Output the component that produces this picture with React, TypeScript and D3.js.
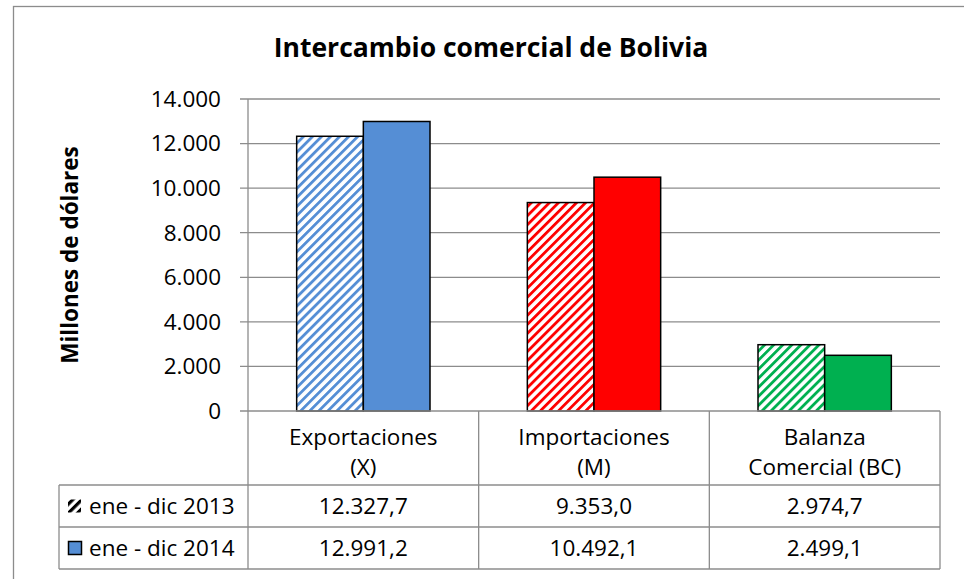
import * as d3 from "d3";
import { useEffect, useRef } from "react";

const categories = ["Exportaciones (X)", "Importaciones (M)", "Balanza Comercial (BC)"];
const categoryLines = [["Exportaciones", "(X)"], ["Importaciones", "(M)"], ["Balanza", "Comercial (BC)"]];
const seriesNames = ["ene - dic 2013", "ene - dic 2014"];
const values2013 = [12327.7, 9353.0, 2974.7];
const values2014 = [12991.2, 10492.1, 2499.1];
const barColors = ["#558ED5", "#FF0000", "#00B050"];
const yTicks = [0, 2000, 4000, 6000, 8000, 10000, 12000, 14000];

const W = 964;
const H = 579;
const FONT = "'Open Sans', sans-serif";
const FS = 22.5;

const fmtTick = (v: number) => d3.format(",")(v).replace(/,/g, ".");
const fmtVal = (v: number) => {
  const s = d3.format(",.1f")(v);
  return s.replace(/,/g, "#").replace(".", ",").replace(/#/g, ".");
};

export default function App() {
  const svgRef = useRef<SVGSVGElement>(null);

  useEffect(() => {
    const margin = { top: 99, left: 248, right: 24, bottom: 168 };
    const plotBottom = H - margin.bottom; // 411
    const plotRight = W - margin.right; // 940
    const tableLeft = 59;
    const rowLines = [485, 527, 569];

    const svg = d3.select(svgRef.current);
    svg.selectAll("*").remove();

    const x0 = d3.scaleBand<string>().domain(categories).range([margin.left, plotRight]).padding(0);
    const x1 = d3.scaleBand<string>().domain(seriesNames).range([0, x0.bandwidth()]).paddingInner(0).paddingOuter(0.73);
    const y = d3.scaleLinear().domain([0, 14000]).range([plotBottom, margin.top]);

    // hatch patterns
    const defs = svg.append("defs");
    barColors.forEach((c, i) => {
      const p = defs.append("pattern")
        .attr("id", `hatch${i}`)
        .attr("patternUnits", "userSpaceOnUse")
        .attr("width", 6.4)
        .attr("height", 6.4)
        .attr("patternTransform", "rotate(45)");
      p.append("rect").attr("width", 6.4).attr("height", 6.4).attr("fill", "#fff");
      p.append("rect").attr("x", 0).attr("width", 2.8).attr("height", 6.4).attr("fill", c);
    });
    const lp = defs.append("pattern")
      .attr("id", "hatchLegend")
      .attr("patternUnits", "userSpaceOnUse")
      .attr("width", 6.4)
      .attr("height", 6.4)
      .attr("patternTransform", "rotate(45)");
    lp.append("rect").attr("width", 6.4).attr("height", 6.4).attr("fill", "#fff");
    lp.append("rect").attr("width", 3.2).attr("height", 6.4).attr("fill", "#000");

    svg.append("rect").attr("width", W).attr("height", H).attr("fill", "#fff");
    // outer chart border
    svg.append("rect")
      .attr("x", 13.5).attr("y", 6.5)
      .attr("width", W + 20).attr("height", H + 20)
      .attr("fill", "none").attr("stroke", "#8c8c8c").attr("stroke-width", 1.3);

    // title
    svg.append("text")
      .attr("x", 491).attr("y", 57)
      .attr("text-anchor", "middle")
      .attr("font-family", FONT).attr("font-weight", "bold").attr("font-size", 26.5)
      .attr("fill", "#000")
      .text("Intercambio comercial de Bolivia");

    // y axis title
    svg.append("text")
      .attr("transform", `translate(78,${(margin.top + plotBottom) / 2}) rotate(-90)`)
      .attr("text-anchor", "middle")
      .attr("font-family", FONT).attr("font-weight", "bold").attr("font-size", 22.5)
      .text("Millones de dólares");

    // gridlines + ticks
    const grid = svg.append("g");
    grid.selectAll("line.grid")
      .data(yTicks.filter(t => t > 0))
      .join("line")
      .attr("class", "grid")
      .attr("x1", margin.left - 8).attr("x2", plotRight)
      .attr("y1", d => y(d)).attr("y2", d => y(d))
      .attr("stroke", "#8c8c8c").attr("stroke-width", 1.3);
    grid.selectAll("text")
      .data(yTicks)
      .join("text")
      .attr("x", 221).attr("y", d => y(d))
      .attr("dy", "0.35em")
      .attr("text-anchor", "end")
      .attr("font-family", FONT).attr("font-size", FS)
      .text(d => fmtTick(d));

    // bars
    const data = categories.map((c, i) => ({ c, i, vals: [values2013[i], values2014[i]] }));
    const groups = svg.append("g").selectAll("g")
      .data(data)
      .join("g")
      .attr("transform", d => `translate(${x0(d.c)},0)`);
    groups.selectAll("rect")
      .data(d => d.vals.map((v, j) => ({ v, j, i: d.i })))
      .join("rect")
      .attr("x", d => x1(seriesNames[d.j])!)
      .attr("width", x1.bandwidth())
      .attr("y", d => y(d.v))
      .attr("height", d => y(0) - y(d.v))
      .attr("fill", d => d.j === 0 ? `url(#hatch${d.i})` : barColors[d.i])
      .attr("stroke", "#000").attr("stroke-width", 1.5);

    // axis line + table lines
    const lines = svg.append("g").attr("stroke", "#8c8c8c").attr("stroke-width", 1.3);
    lines.append("line").attr("x1", margin.left - 8).attr("x2", plotRight).attr("y1", plotBottom).attr("y2", plotBottom);
    lines.append("line").attr("x1", margin.left).attr("x2", margin.left).attr("y1", margin.top).attr("y2", rowLines[2]);
    rowLines.forEach(ry => {
      lines.append("line").attr("x1", tableLeft).attr("x2", plotRight).attr("y1", ry).attr("y2", ry);
    });
    lines.append("line").attr("x1", tableLeft).attr("x2", tableLeft).attr("y1", rowLines[0]).attr("y2", rowLines[2]);
    categories.forEach(c => {
      const xr = x0(c)! + x0.bandwidth();
      lines.append("line").attr("x1", xr).attr("x2", xr).attr("y1", plotBottom).attr("y2", rowLines[2]);
    });

    // category labels
    const t = svg.append("g").attr("font-family", FONT).attr("font-size", FS).attr("fill", "#000");
    categories.forEach((c, i) => {
      const cx = x0(c)! + x0.bandwidth() / 2;
      categoryLines[i].forEach((ln, k) => {
        t.append("text").attr("x", cx).attr("y", 437 + k * 30).attr("dy", "0.35em")
          .attr("text-anchor", "middle").text(ln);
      });
      [values2013[i], values2014[i]].forEach((v, j) => {
        t.append("text").attr("x", cx).attr("y", (rowLines[j] + rowLines[j + 1]) / 2).attr("dy", "0.35em")
          .attr("text-anchor", "middle").text(fmtVal(v));
      });
    });

    // legend rows
    seriesNames.forEach((s, j) => {
      const cy = (rowLines[j] + rowLines[j + 1]) / 2;
      if (j === 0) {
        svg.append("rect").attr("x", 68).attr("y", cy - 6.5).attr("width", 13).attr("height", 13)
          .attr("fill", "url(#hatchLegend)");
      } else {
        svg.append("rect").attr("x", 68.5).attr("y", cy - 6.5).attr("width", 13).attr("height", 13)
          .attr("fill", barColors[0]).attr("stroke", "#000").attr("stroke-width", 1.5);
      }
      t.append("text").attr("x", 89).attr("y", cy).attr("dy", "0.35em").text(s);
    });
  }, []);

  return (
    <svg
      ref={svgRef}
      width={W}
      height={H}
      style={{ position: "absolute", left: 0, top: 0, display: "block" }}
    />
  );
}
